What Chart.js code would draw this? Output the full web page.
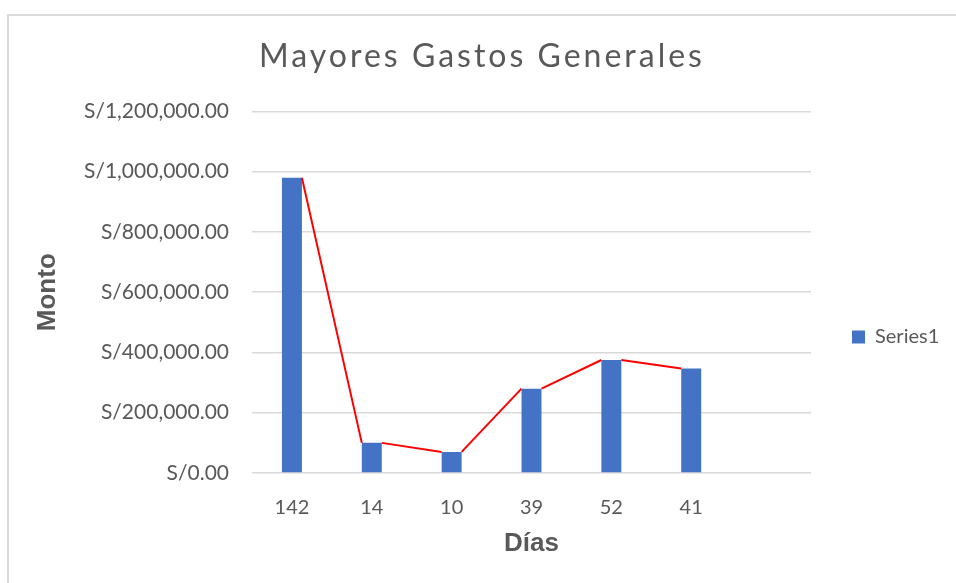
<!DOCTYPE html>
<html>
<head>
<meta charset="utf-8">
<script src="https://cdn.jsdelivr.net/npm/chart.js@4/dist/chart.umd.min.js"></script>
<style>
  html, body { margin: 0; padding: 0; background: #ffffff; }
  #wrap { position: relative; width: 956px; height: 583px; overflow: hidden; }
  #frame { position: absolute; left: 7px; top: 14px; width: 1000px; height: 1000px;
           border-left: 2px solid #dadada; border-top: 2px solid #dadada; }
  canvas { position: absolute; left: 0; top: 0; }
</style>
</head>
<body>
<div id="wrap">
  <div id="frame"></div>
  <canvas id="c" width="956" height="583"></canvas>
</div>
<script>
// ---- data ----
const categories = ['142', '14', '10', '39', '52', '41', ''];
const montos = [980000, 100000, 70000, 280000, 375000, 347000, null];
const seriesName = 'Series1';
const chartTitle = 'Mayores Gastos Generales';
const xTitle = 'Días';
const yTitle = 'Monto';
const yMax = 1200000;
const yStep = 200000;

// ---- styling constants ----
const BAR_FRACTION = 0.25;          // bar width as share of category width
const TEXT = '#595959';
const GRID = '#d9d9d9';

// red line segments joining the top corners of consecutive bars
const half = BAR_FRACTION / 2;
const trend = [];
for (let i = 0; i < montos.length - 1; i++) {
  if (montos[i] == null || montos[i + 1] == null) continue;
  trend.push({ x: i + half, y: montos[i] });
  trend.push({ x: i + 1 - half, y: montos[i + 1] });
  trend.push({ x: i + 0.5, y: null });
}

const fmt = v => 'S/' + Number(v).toLocaleString('en-US', { minimumFractionDigits: 2, maximumFractionDigits: 2 });

const legendFit = {
  id: 'legendFit',
  beforeLayout(chart) {
    const lg = chart.legend;
    if (lg && !lg._wrapped) {
      const f = lg.fit;
      lg.fit = function () { f.call(this); this.width = 145; };
      lg._wrapped = true;
    }
  }
};
const titleSpacing = {
  id: 'titleSpacing',
  beforeDraw(chart) {
    const tb = chart.titleBlock;
    if (tb && !tb._patched) {
      const d = tb.draw;
      tb.draw = function (...a) {
        const c = this.ctx; c.save(); c.letterSpacing = '3px'; d.apply(this, a); c.restore();
      };
      tb._patched = true;
    }
  }
};

new Chart(document.getElementById('c'), {
  type: 'bar',
  data: {
    labels: categories,
    datasets: [
      {
        type: 'line',
        label: 'trend',
        data: trend,
        xAxisID: 'xl',
        yAxisID: 'y',
        borderColor: '#ff0000',
        borderWidth: 2,
        pointRadius: 0,
        spanGaps: false,
        fill: false,
        order: 0
      },
      {
        type: 'bar',
        label: seriesName,
        data: montos,
        xAxisID: 'x',
        yAxisID: 'y',
        backgroundColor: '#4472c4',
        borderWidth: 0,
        grouped: false,
        categoryPercentage: 1,
        barPercentage: BAR_FRACTION,
        order: 1
      }
    ]
  },
  options: {
    responsive: false,
    animation: false,
    events: [],
    layout: { padding: { left: 8, right: 0, top: 0, bottom: 0 } },
    plugins: {
      tooltip: { enabled: false },
      title: {
        display: true,
        text: chartTitle,
        color: TEXT,
        font: { family: 'Lato', size: 32, weight: 'normal' },
        padding: { top: 37, bottom: 36 }
      },
      legend: {
        position: 'right',
        title: { display: true, text: ' ', font: { size: 12 }, padding: { top: 76.6, bottom: 0 } },
        labels: {
          boxWidth: 13,
          boxHeight: 13,
          padding: 41,
          color: TEXT,
          font: { family: 'Lato', size: 20 },
          filter: item => item.datasetIndex === 1
        }
      }
    },
    scales: {
      x: {
        type: 'category',
        offset: true,
        grid: { display: false },
        border: { display: false },
        ticks: { color: TEXT, font: { family: 'Lato', size: 20 }, padding: 15 },
        title: {
          display: true, text: xTitle, color: TEXT,
          font: { family: 'Liberation Sans', size: 26, weight: 'bold' },
          padding: { top: 0, bottom: 24 }
        },
        afterFit: s => { s.height = 110; }
      },
      xl: {
        type: 'linear',
        display: false,
        offset: false,
        grid: { offset: false },
        min: -0.5,
        max: categories.length - 0.5
      },
      y: {
        min: 0,
        max: yMax,
        ticks: { stepSize: yStep, color: TEXT, font: { family: 'Lato', size: 21 }, padding: 23, callback: v => fmt(v) },
        grid: { color: GRID, lineWidth: 1.5, drawTicks: false },
        border: { display: false },
        title: {
          display: true, text: yTitle, color: TEXT,
          font: { family: 'Liberation Sans', size: 26, weight: 'bold' },
          padding: { top: 24, bottom: 0 }
        },
        afterFit: s => { s.width = 244; }
      }
    }
  },
  plugins: [legendFit, titleSpacing]
});
</script>
</body>
</html>
